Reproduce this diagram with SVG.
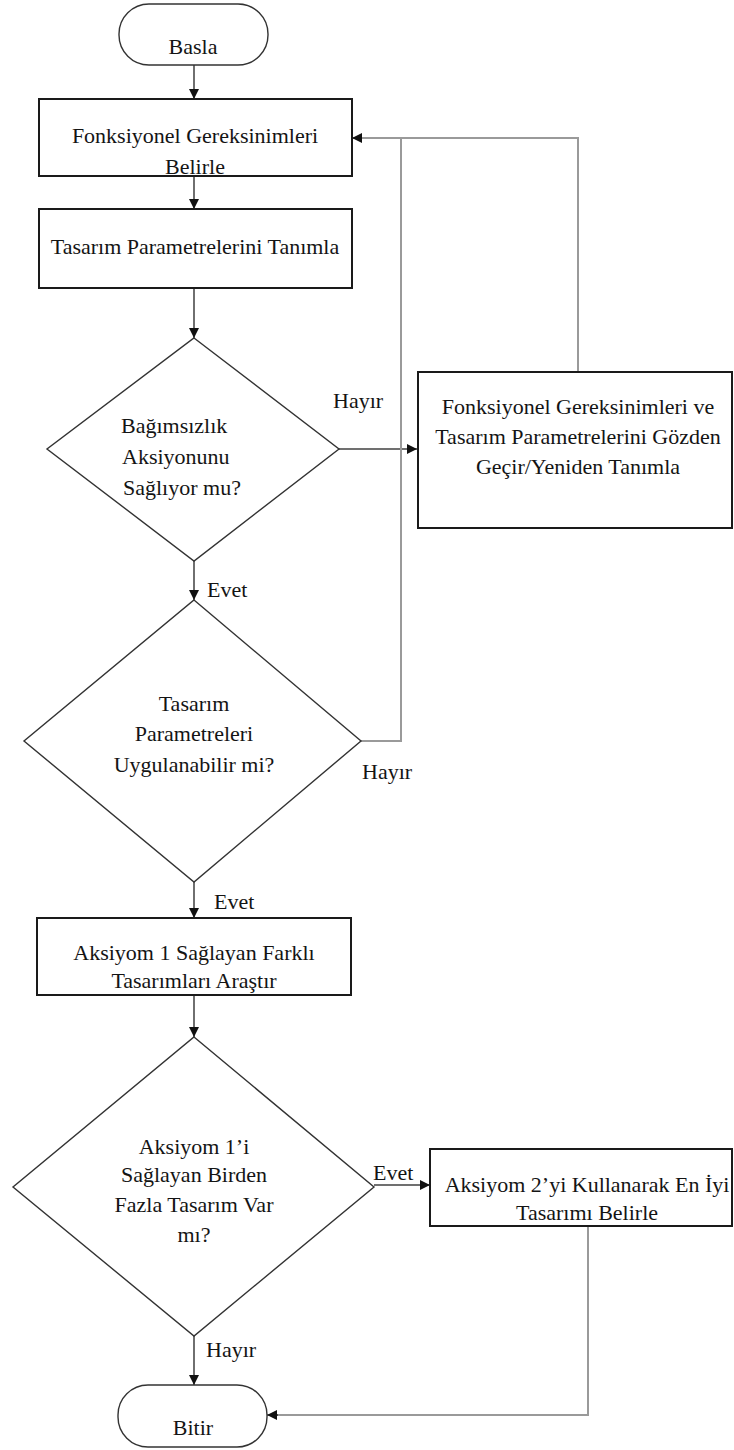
<svg xmlns="http://www.w3.org/2000/svg" width="734" height="1450" viewBox="0 0 734 1450">
<style>
  text { font-family: "Liberation Serif", "Times New Roman", Times, "DejaVu Serif", serif; font-size: 22px; fill: #141414; }
  .c { text-anchor: middle; }
  .box { fill: #fff; stroke: #1a1a1a; stroke-width: 2; }
  .dia { fill: #fff; stroke: #333; stroke-width: 1.4; }
  .term { fill: #fff; stroke: #333; stroke-width: 1.4; }
  .flow { fill: none; stroke: #222; stroke-width: 1.3; }
  .gray { fill: none; stroke: #9a9a9a; stroke-width: 2; }
  .mid { fill: none; stroke: #707070; stroke-width: 1.8; }
</style>
<defs>
  <marker id="ah" viewBox="0 0 10 10" refX="10" refY="5" markerWidth="10" markerHeight="10" markerUnits="userSpaceOnUse" orient="auto">
    <path d="M0,0 L10,5 L0,10 Z" fill="#111"/>
  </marker>
</defs>
<rect width="734" height="1450" fill="#fff"/>

<g id="connectors">
  <line class="flow" x1="194" y1="65" x2="194" y2="99" marker-end="url(#ah)"/>
  <line class="flow" x1="194" y1="176" x2="194" y2="209" marker-end="url(#ah)"/>
  <line class="flow" x1="194" y1="288" x2="194" y2="338" marker-end="url(#ah)"/>
  <line class="flow" x1="194" y1="561" x2="194" y2="600" marker-end="url(#ah)"/>
  <line class="mid" x1="339" y1="449" x2="417" y2="449" marker-end="url(#ah)"/>
  <polyline class="gray" points="361,741 401,741 401,138"/>
  <polyline class="gray" points="578,372 578,138 362,138"/>
  <line class="flow" x1="362" y1="138" x2="352" y2="138" marker-end="url(#ah)"/>
  <line class="flow" x1="194" y1="882" x2="194" y2="918" marker-end="url(#ah)"/>
  <line class="flow" x1="194" y1="995" x2="194" y2="1037" marker-end="url(#ah)"/>
  <line class="mid" x1="374" y1="1185" x2="430" y2="1185" marker-end="url(#ah)"/>
  <line class="flow" x1="194" y1="1336" x2="194" y2="1385" marker-end="url(#ah)"/>
  <polyline class="gray" points="588,1226 588,1415 277,1415"/>
  <line class="flow" x1="278" y1="1415" x2="267" y2="1415" marker-end="url(#ah)"/>
</g>

<g id="start">
  <rect class="term" x="119" y="4" width="149" height="61" rx="30" ry="30"/>
  <text class="c" x="193" y="54" font-family="Liberation Serif, serif">Basla</text>
</g>

<g id="box1">
  <rect class="box" x="39" y="99" width="313" height="77"/>
  <text class="c" x="195" y="143" font-family="Liberation Serif, serif">Fonksiyonel Gereksinimleri</text>
  <text class="c" x="195" y="174" font-family="Liberation Serif, serif">Belirle</text>
</g>

<g id="box2">
  <rect class="box" x="39" y="209" width="313" height="79"/>
  <text class="c" x="195" y="254" font-family="Liberation Serif, serif">Tasarım Parametrelerini Tanımla</text>
</g>

<g id="dec1">
  <polygon class="dia" points="194,338 339,449 194,561 47,449"/>
  <text x="121" y="433" font-family="Liberation Serif, serif">Bağımsızlık</text>
  <text x="122" y="464" font-family="Liberation Serif, serif">Aksiyonunu</text>
  <text x="123" y="495" font-family="Liberation Serif, serif">Sağlıyor mu?</text>
</g>

<g id="revise">
  <rect class="box" x="418" y="372" width="314" height="156"/>
  <text class="c" x="578" y="414" font-family="Liberation Serif, serif">Fonksiyonel Gereksinimleri ve</text>
  <text class="c" x="578" y="444" font-family="Liberation Serif, serif">Tasarım Parametrelerini Gözden</text>
  <text class="c" x="578" y="474" font-family="Liberation Serif, serif">Geçir/Yeniden Tanımla</text>
</g>

<g id="dec2">
  <polygon class="dia" points="194,600 361,741 194,882 24,741"/>
  <text class="c" x="194" y="711" font-family="Liberation Serif, serif">Tasarım</text>
  <text class="c" x="194" y="741" font-family="Liberation Serif, serif">Parametreleri</text>
  <text class="c" x="194" y="772" font-family="Liberation Serif, serif">Uygulanabilir mi?</text>
</g>

<g id="box3">
  <rect class="box" x="37" y="918" width="314" height="77"/>
  <text class="c" x="194" y="960" font-family="Liberation Serif, serif">Aksiyom 1 Sağlayan Farklı</text>
  <text class="c" x="194" y="988" font-family="Liberation Serif, serif">Tasarımları Araştır</text>
</g>

<g id="dec3">
  <polygon class="dia" points="194,1037 374,1187 194,1336 13,1187"/>
  <text class="c" x="194" y="1154" font-family="Liberation Serif, serif">Aksiyom 1’i</text>
  <text class="c" x="194" y="1182" font-family="Liberation Serif, serif">Sağlayan Birden</text>
  <text class="c" x="194" y="1212" font-family="Liberation Serif, serif">Fazla Tasarım Var</text>
  <text class="c" x="194" y="1242" font-family="Liberation Serif, serif">mı?</text>
</g>

<g id="box4">
  <rect class="box" x="430" y="1149" width="302" height="77"/>
  <text class="c" x="587" y="1192" font-family="Liberation Serif, serif">Aksiyom 2’yi Kullanarak En İyi</text>
  <text class="c" x="587" y="1220" font-family="Liberation Serif, serif">Tasarımı Belirle</text>
</g>

<g id="end">
  <rect class="term" x="118" y="1385" width="149" height="62" rx="30" ry="30"/>
  <text class="c" x="193" y="1435" font-family="Liberation Serif, serif">Bitir</text>
</g>

<g id="labels">
  <text x="333" y="408" font-family="Liberation Serif, serif">Hayır</text>
  <text x="207" y="597" font-family="Liberation Serif, serif">Evet</text>
  <text x="362" y="779" font-family="Liberation Serif, serif">Hayır</text>
  <text x="214" y="909" font-family="Liberation Serif, serif">Evet</text>
  <text x="373" y="1180" font-family="Liberation Serif, serif">Evet</text>
  <text x="206" y="1357" font-family="Liberation Serif, serif">Hayır</text>
</g>
</svg>
